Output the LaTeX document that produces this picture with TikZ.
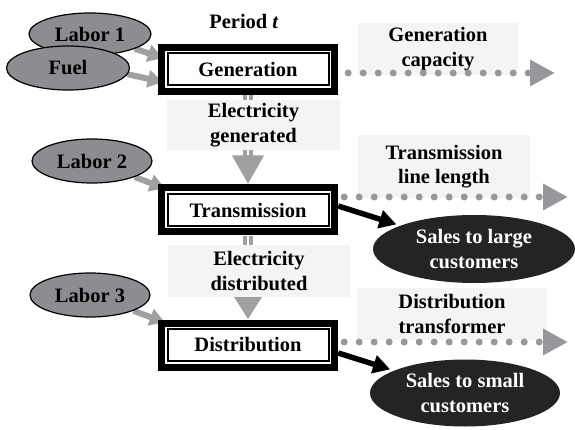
\documentclass[tikz,border=0pt]{standalone}
\usepackage{fontspec}
\setmainfont{Liberation Serif}
\usetikzlibrary{arrows.meta,shapes.geometric,calc,backgrounds}
\definecolor{ellgray}{RGB}{141,141,145}
\definecolor{arrowgray}{RGB}{160,160,163}
\definecolor{dotgray}{RGB}{152,152,156}
\definecolor{labelbg}{RGB}{244,244,244}
\definecolor{salesblack}{RGB}{36,36,36}
\begin{document}
\begin{tikzpicture}[x=1pt,y=-1pt,
  txt/.style={font=\bfseries\fontsize{20.5}{24.5}\selectfont, align=center},
  labor/.style={txt, ellipse, draw=black, line width=1.2pt, fill=ellgray, minimum width=122pt, minimum height=42pt, inner sep=0pt},
  sales/.style={txt, ellipse, fill=salesblack, text=white, inner sep=0pt},
  procbox/.style={txt, rectangle, fill=black, minimum width=180pt, minimum height=51pt, inner sep=0pt,
    path picture={
      \fill[white] ([shift={(7pt,7pt)}]path picture bounding box.south west) rectangle ([shift={(-7pt,-7pt)}]path picture bounding box.north east);
      \draw[black, line width=2pt] ([shift={(9.5pt,9.5pt)}]path picture bounding box.south west) rectangle ([shift={(-9.5pt,-9.5pt)}]path picture bounding box.north east);
    }},
  infobox/.style={txt, rectangle, fill=labelbg, inner sep=0pt},
  inarrow/.style={draw=arrowgray, line width=6pt, -{Triangle[length=15pt,width=17pt]}},
  outarrow/.style={draw=black, line width=5.5pt, -{Triangle[length=17pt,width=18pt]}, shorten >=4pt},
  capdots/.style={draw=dotgray, line width=7pt, line cap=round, dash pattern=on 0pt off 15pt, -{Triangle[length=25pt,width=25pt]}},
  flowshaft/.style={draw=arrowgray, line width=10pt},
  flowcore/.style={draw=white, line width=2pt},
]
\useasboundingbox (0,0) rectangle (575,430);

% labour and fuel inputs
\node[labor] (lab1) at (90,34) {Labor 1};
\node[labor, minimum width=123pt, minimum height=44pt] (fuel) at (68,68) {Fuel};
\node[labor, minimum width=120pt, minimum height=44pt] (lab2) at (92,161) {Labor 2};
\node[labor, minimum width=120pt, minimum height=44pt] (lab3) at (90,295) {Labor 3};

\node[txt] (period) at (244,21) {Period \textit{t}};

% process boxes
\node[procbox] (gen) at (248,69.5) {Generation};
\node[procbox] (trans) at (248,210) {Transmission};
\node[procbox] (dist) at (248,345) {Distribution};

% labels
\node[infobox, minimum width=160pt, minimum height=52pt] (gcap) at (438,49) {Generation\\capacity};
\node[infobox, minimum width=173pt, minimum height=50pt] (egen) at (253.5,125) {Electricity\\generated};
\node[infobox, minimum width=172pt, minimum height=63pt] (tlen) at (444,166.5) {Transmission\\line length};
\node[infobox, minimum width=182pt, minimum height=52pt] (edist) at (259,271) {Electricity\\distributed};
\node[infobox, minimum width=190pt, minimum height=52pt] (dtrans) at (452,314) {Distribution\\transformer};

% sales
\node[sales, minimum width=202pt, minimum height=68pt] (slarge) at (474,249) {Sales to large\\customers};
\node[sales, minimum width=190pt, minimum height=67pt] (ssmall) at (465,393) {Sales to small\\customers};

% free ends
\coordinate (g1) at ($(gen.west)+(5,-11.5)$);
\coordinate (g2) at ($(gen.west)+(5,12.5)$);
\coordinate (t1) at ($(trans.north west)+(7,4)$);
\coordinate (d1) at ($(dist.north west)+(7,3)$);
\coordinate (gcapstart) at ($(gen.east)+(10,3.5)$);
\coordinate (gcaptip) at (555,73);
\coordinate (tlenstart) at ($(trans.east)+(6,-13)$);
\coordinate (tlentip) at (568,197);
\coordinate (dtrstart) at ($(dist.east)+(6,-3)$);
\coordinate (dtrtip) at (568,342);

\begin{scope}[on background layer]
  \draw[inarrow] (lab1) -- (g1);
  \draw[inarrow] (fuel.-6) -- (g2);
  \draw[inarrow] (lab2) -- (t1);
  \draw[inarrow] (lab3) -- (d1);
  \draw[flowshaft, -{Triangle[length=29pt,width=30pt]}] (gen.south) -- (trans.north);
  \draw[flowcore] (gen.south) -- ($(trans.north)+(0,-29)$);
  \draw[flowshaft, -{Triangle[length=23pt,width=27pt]}] (trans.south) -- (dist.north);
  \draw[flowcore] (trans.south) -- ($(dist.north)+(0,-23)$);
  \draw[outarrow] ($(trans.east)+(0,-4)$) -- (slarge);
  \draw[outarrow] ($(dist.east)+(0,8)$) -- (ssmall);
\end{scope}

\draw[capdots] (gcapstart) -- (gcaptip);
\draw[capdots] (tlenstart) -- (tlentip);
\draw[capdots] (dtrstart) -- (dtrtip);
\end{tikzpicture}
\end{document}
